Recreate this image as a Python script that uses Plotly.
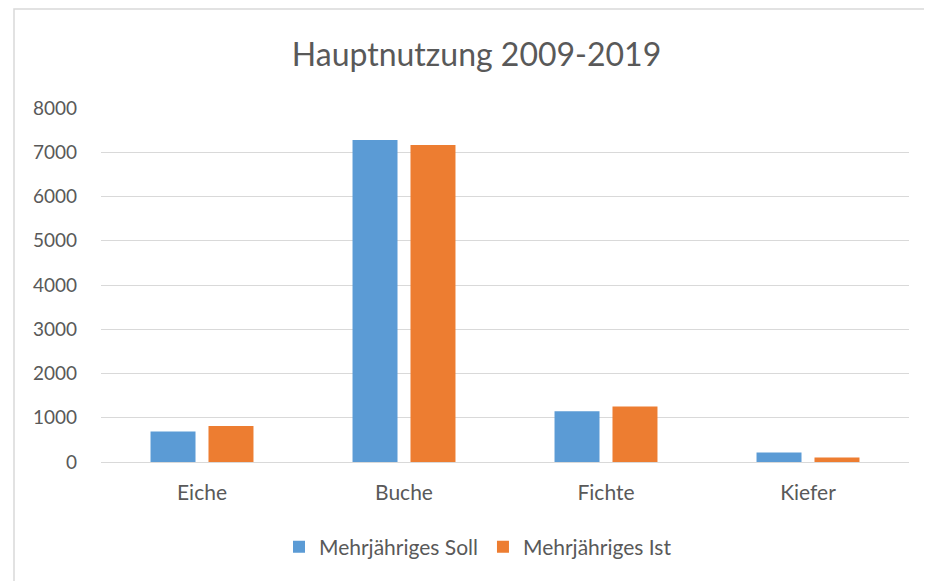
import plotly.graph_objects as go

categories = ["Eiche", "Buche", "Fichte", "Kiefer"]
soll_values = [690, 7278, 1148, 213]
ist_values = [814, 7165, 1255, 100]
series_names = ["Mehrjähriges Soll", "Mehrjähriges Ist"]
y_ticks = [0, 1000, 2000, 3000, 4000, 5000, 6000, 7000, 8000]
title_text = "Hauptnutzung 2009-2019"

BLUE = "#5B9BD5"
ORANGE = "#ED7D31"
TEXT = "#595959"
GRID = "#D9D9D9"
FONT = "Lato, Noto Sans, sans-serif"

fig = go.Figure()
fig.add_trace(go.Bar(x=categories, y=soll_values, name=series_names[0],
                     marker=dict(color=BLUE, line=dict(width=0))))
fig.add_trace(go.Bar(x=categories, y=ist_values, name=series_names[1],
                     marker=dict(color=ORANGE, line=dict(width=0))))

# page body has an 8px margin, so the figure is drawn 8px smaller and offset
OFF = 8
W, H = 932 - OFF, 581 - OFF
L, R, T, B = 101 - OFF, 23, 108 - OFF, 119
pw = W - L - R
ph = H - T - B

fig.update_layout(
    width=W, height=H,
    margin=dict(l=L, r=R, t=T, b=B, pad=0),
    paper_bgcolor="white", plot_bgcolor="white",
    barmode="group", bargap=0.426, bargroupgap=0.224,
    font=dict(family=FONT, color=TEXT, size=21),
    title=dict(text=title_text, font=dict(family=FONT, size=32, color=TEXT),
               x=(476.5 - OFF - L) / pw, xref="paper", xanchor="center",
               y=1 - (55 - OFF) / H, yref="container", yanchor="middle"),
    legend=dict(orientation="h", x=(478 - OFF - L) / pw, xanchor="center",
                y=(T + ph - (547 - OFF)) / ph, yanchor="middle",
                font=dict(family=FONT, size=21, color=TEXT),
                itemwidth=30, traceorder="normal", bgcolor="rgba(0,0,0,0)"),
    showlegend=True,
    shapes=[dict(type="rect", xref="paper", yref="paper",
                 x0=(14 - OFF - L) / pw, x1=(950 - L) / pw,
                 y0=(T + ph - 600) / ph, y1=(T + ph - (9 - OFF)) / ph,
                 line=dict(color=GRID, width=1.5), fillcolor="rgba(0,0,0,0)",
                 layer="below")],
)
fig.update_yaxes(range=[0, 8000], tickvals=y_ticks, showgrid=True, gridcolor=GRID,
                 gridwidth=1, zeroline=True, zerolinecolor=GRID, zerolinewidth=1,
                 showline=False, ticks="", ticklabelstandoff=23,
                 tickfont=dict(family=FONT, size=19, color=TEXT))
fig.update_xaxes(showline=False, ticks="", ticklabelstandoff=16,
                 tickfont=dict(family=FONT, size=21, color=TEXT))

fig.write_html("out.html")
